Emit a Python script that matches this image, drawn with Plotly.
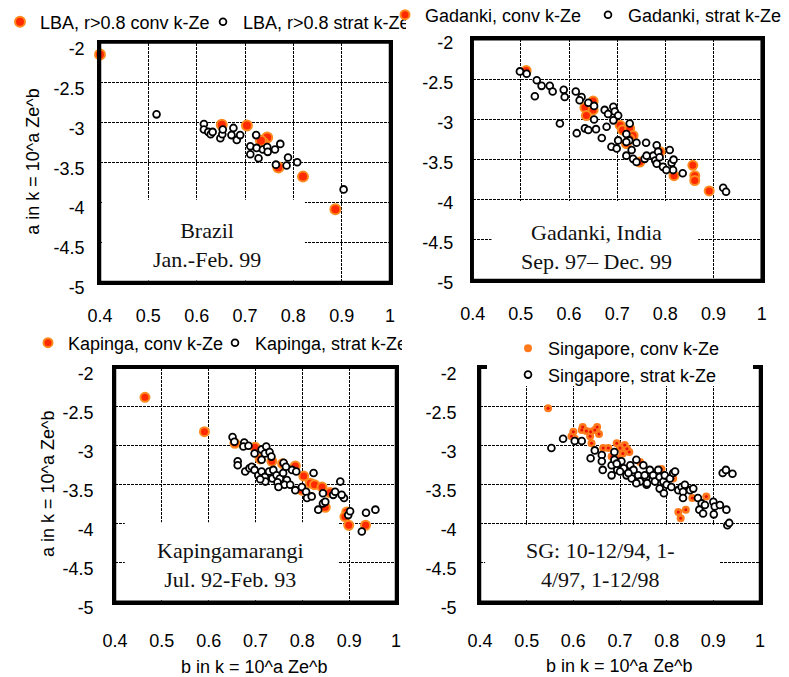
import plotly.graph_objects as go

# ---------------- data: exponent b and log-coefficient a of k = 10^a Ze^b ----------------
B_TICKS = [0.4, 0.5, 0.6, 0.7, 0.8, 0.9, 1.0]
B_TICK_TEXT = ["0.4", "0.5", "0.6", "0.7", "0.8", "0.9", "1"]
A_TICKS = [-2.0, -2.5, -3.0, -3.5, -4.0, -4.5, -5.0]
A_TICK_TEXT = ["-2", "-2.5", "-3", "-3.5", "-4", "-4.5", "-5"]

# Brazil (LBA, r>0.8)
lba_conv_b = [0.400, 0.652, 0.704, 0.746, 0.738, 0.733, 0.769, 0.820, 0.887]
lba_conv_a = [-2.15, -3.03, -3.04, -3.19, -3.26, -3.23, -3.565, -3.68, -4.09]
lba_strat_b = [0.517, 0.615, 0.615, 0.624, 0.629, 0.633, 0.649, 0.653, 0.654, 0.672,
               0.676, 0.683, 0.690, 0.723, 0.711, 0.711, 0.724, 0.728, 0.737, 0.746,
               0.747, 0.762, 0.773, 0.764, 0.786, 0.789, 0.808, 0.904]
lba_strat_a = [-2.90, -3.02, -3.09, -3.12, -3.15, -3.12, -3.20, -3.15, -3.09, -3.16,
               -3.07, -3.22, -3.16, -3.16, -3.30, -3.40, -3.32, -3.45, -3.34, -3.31,
               -3.37, -3.34, -3.27, -3.53, -3.54, -3.44, -3.50, -3.84]

# Gadanki, India
gad_conv_b = [0.511, 0.633, 0.650, 0.650, 0.636, 0.706, 0.711, 0.726, 0.733, 0.726,
              0.719, 0.747, 0.789, 0.818, 0.857, 0.861, 0.861, 0.891]
gad_conv_a = [-2.39, -2.85, -2.77, -2.88, -2.95, -3.07, -3.13, -3.11, -3.20, -3.24,
              -3.30, -3.53, -3.40, -3.70, -3.57, -3.70, -3.76, -3.89]
gad_strat_b = [0.498, 0.512, 0.533, 0.543, 0.529, 0.560, 0.566, 0.589, 0.591, 0.614,
               0.626, 0.622, 0.640, 0.652, 0.581, 0.616, 0.633, 0.640, 0.656, 0.652,
               0.668, 0.674, 0.681, 0.692, 0.695, 0.702, 0.692, 0.688, 0.699, 0.702,
               0.678, 0.719, 0.725, 0.730, 0.726, 0.719, 0.733, 0.740, 0.760, 0.757,
               0.761, 0.775, 0.779, 0.782, 0.785, 0.782, 0.795, 0.788, 0.809, 0.813,
               0.816, 0.802, 0.817, 0.836, 0.920, 0.926, 0.740, 0.719]
gad_strat_a = [-2.40, -2.43, -2.51, -2.58, -2.71, -2.58, -2.65, -2.63, -2.72, -2.65,
               -2.72, -2.76, -2.79, -2.83, -3.05, -3.17, -3.11, -3.13, -3.12, -3.00,
               -3.23, -2.88, -2.93, -2.84, -2.90, -2.95, -3.01, -3.34, -3.36, -3.26,
               -3.09, -3.18, -3.26, -3.38, -3.05, -3.45, -3.49, -3.53, -3.29, -3.49,
               -3.45, -3.45, -3.51, -3.32, -3.40, -3.55, -3.59, -3.47, -3.38, -3.54,
               -3.63, -3.63, -3.50, -3.67, -3.85, -3.90, -3.29, -3.28]

# Kapingamarangi
kap_conv_b = [0.464, 0.591, 0.656, 0.699, 0.710, 0.735, 0.758, 0.785, 0.803, 0.817,
              0.826, 0.842, 0.849, 0.859, 0.895, 0.891, 0.899, 0.935, 0.799]
kap_conv_a = [-2.38, -2.82, -2.97, -3.02, -3.17, -3.20, -3.23, -3.26, -3.39, -3.48,
              -3.50, -3.53, -3.79, -3.60, -3.85, -3.91, -4.02, -4.02, -3.57]
kap_strat_b = [0.651, 0.655, 0.676, 0.674, 0.685, 0.698, 0.713, 0.720, 0.723, 0.730,
               0.734, 0.713, 0.662, 0.662, 0.678, 0.687, 0.692, 0.698, 0.706, 0.713,
               0.720, 0.729, 0.736, 0.721, 0.710, 0.738, 0.745, 0.752, 0.747, 0.759,
               0.767, 0.762, 0.774, 0.785, 0.778, 0.749, 0.760, 0.765, 0.787, 0.799,
               0.808, 0.810, 0.824, 0.834, 0.844, 0.844, 0.849, 0.866, 0.870, 0.881,
               0.889, 0.884, 0.898, 0.902, 0.927, 0.936, 0.956, 0.820]
kap_strat_a = [-2.89, -2.95, -2.96, -3.01, -3.00, -3.10, -3.05, -3.10, -3.01, -3.08,
               -3.14, -3.18, -3.20, -3.25, -3.33, -3.29, -3.27, -3.31, -3.38, -3.33,
               -3.40, -3.33, -3.42, -3.46, -3.43, -3.31, -3.38, -3.42, -3.47, -3.35,
               -3.44, -3.50, -3.50, -3.57, -3.31, -3.53, -3.22, -3.27, -3.33, -3.53,
               -3.59, -3.67, -3.35, -3.82, -3.61, -3.74, -3.72, -3.63, -3.59, -3.46,
               -3.67, -3.63, -3.89, -3.84, -4.10, -3.86, -3.82, -3.65]

# Singapore
sg_conv_b = [0.546, 0.600, 0.596, 0.603, 0.620, 0.618, 0.628, 0.637, 0.636, 0.646,
             0.651, 0.655, 0.639, 0.664, 0.675, 0.693, 0.700, 0.710, 0.715, 0.720,
             0.706, 0.682, 0.696, 0.743, 0.789, 0.814, 0.855, 0.885, 0.825, 0.841, 0.830]
sg_conv_a = [-2.52, -2.82, -2.88, -2.91, -2.76, -2.80, -2.81, -2.82, -2.88, -2.80,
             -2.76, -2.85, -2.97, -3.03, -3.03, -2.97, -3.03, -2.99, -3.04, -3.08,
             -3.10, -3.14, -3.16, -3.21, -3.30, -3.42, -3.67, -3.65, -3.85, -3.82, -3.93]
sg_strat_b = [0.553, 0.578, 0.603, 0.618, 0.637, 0.646, 0.661, 0.663, 0.682, 0.688,
              0.688, 0.694, 0.682, 0.703, 0.708, 0.714, 0.722, 0.729, 0.725, 0.735,
              0.739, 0.743, 0.756, 0.735, 0.757, 0.661, 0.693, 0.750, 0.753, 0.758,
              0.764, 0.771, 0.775, 0.782, 0.785, 0.793, 0.796, 0.800, 0.785, 0.794,
              0.807, 0.810, 0.814, 0.818, 0.825, 0.832, 0.835, 0.839, 0.835, 0.850,
              0.857, 0.867, 0.875, 0.870, 0.882, 0.878, 0.900, 0.903, 0.901, 0.914,
              0.928, 0.920, 0.927, 0.941, 0.930, 0.934, 0.700, 0.718]
sg_strat_a = [-3.03, -2.91, -2.94, -2.94, -3.16, -3.06, -3.12, -3.31, -3.25, -3.08,
              -3.18, -3.31, -3.38, -3.20, -3.29, -3.38, -3.25, -3.31, -3.42, -3.18,
              -3.38, -3.46, -3.42, -3.48, -3.50, -3.20, -3.23, -3.25, -3.38, -3.48,
              -3.31, -3.38, -3.46, -3.31, -3.40, -3.46, -3.38, -3.50, -3.55, -3.61,
              -3.42, -3.53, -3.35, -3.33, -3.57, -3.53, -3.59, -3.50, -3.67, -3.57,
              -3.55, -3.67, -3.74, -3.82, -3.76, -3.87, -3.72, -3.78, -3.88, -3.76,
              -3.82, -3.35, -3.31, -3.36, -4.02, -3.99, -3.33, -3.35]

# ---------------- page geometry (pixels) ----------------
W, H = 789, 677


def xdom(left, right):
    return [left / W, right / W]


def ydom(top, bottom):
    return [1 - bottom / H, 1 - top / H]


def px(x):
    return x / W


def py(y):
    return 1 - y / H


SANS = "Liberation Sans, Arial, sans-serif"
SERIF = "Liberation Serif, Times New Roman, serif"

CONV_FILL = "#FF2A00"
CONV_EDGE = "#FF8A1E"

fig = go.Figure()


def conv_trace(b, a, name, axis, legend, size=9):
    return go.Scatter(
        x=b, y=a, mode="markers", name=name, xaxis="x" + axis, yaxis="y" + axis,
        legend=legend, cliponaxis=False,
        marker=dict(size=size, color=CONV_FILL, line=dict(color=CONV_EDGE, width=2)),
    )


def strat_trace(b, a, name, axis, legend):
    return go.Scatter(
        x=b, y=a, mode="markers", name=name, xaxis="x" + axis, yaxis="y" + axis,
        legend=legend, cliponaxis=False,
        marker=dict(size=6.8, color="white", line=dict(color="black", width=1.8)),
    )


fig.add_trace(conv_trace(lba_conv_b, lba_conv_a, "LBA, r>0.8 conv k-Ze", "", "legend", 10))
fig.add_trace(strat_trace(lba_strat_b, lba_strat_a, "LBA, r>0.8 strat k-Ze", "", "legend"))

fig.add_trace(conv_trace(gad_conv_b, gad_conv_a, "Gadanki, conv k-Ze", "2", "legend2"))
fig.add_trace(strat_trace(gad_strat_b, gad_strat_a, "Gadanki, strat k-Ze", "2", "legend2"))

fig.add_trace(conv_trace(kap_conv_b, kap_conv_a, "Kapinga, conv k-Ze", "3", "legend3"))
fig.add_trace(strat_trace(kap_strat_b, kap_strat_a, "Kapinga, strat k-Ze", "3", "legend3"))

# Singapore convective: orange dots with a red core
fig.add_trace(go.Scatter(
    x=sg_conv_b, y=sg_conv_a, mode="markers", name="Singapore, conv k-Ze",
    xaxis="x4", yaxis="y4", legend="legend4", cliponaxis=False,
    marker=dict(size=8, color="#FF7A1C", line=dict(width=0)),
))
fig.add_trace(go.Scatter(
    x=sg_conv_b, y=sg_conv_a, mode="markers", showlegend=False, hoverinfo="skip",
    xaxis="x4", yaxis="y4", cliponaxis=False,
    marker=dict(size=3, color="#E81000", line=dict(width=0)),
))
fig.add_trace(strat_trace(sg_strat_b, sg_strat_a, "Singapore, strat k-Ze", "4", "legend4"))

# ---------------- axes ----------------
panels = {
    "": dict(x=(100, 390), y=(42.5, 282), ystand=9, yshift=6, xstand=16),
    "2": dict(x=(472.7, 761.7), y=(39.3, 280), ystand=13, yshift=3, xstand=16),
    "3": dict(x=(115, 396), y=(367.7, 601.7), ystand=15, yshift=6, xstand=21),
    "4": dict(x=(480, 760), y=(367.7, 601.7), ystand=17, yshift=6, xstand=21),
}

tickfont = dict(family=SANS, size=18, color="black")
common = dict(
    showgrid=True, gridcolor="black", gridwidth=1.4, griddash="3px,1px",
    showline=True, linecolor="black", linewidth=2.5, mirror=True,
    ticks="", zeroline=False, fixedrange=True, tickfont=tickfont,
)

layout_axes = {}
for key, p in panels.items():
    layout_axes["xaxis" + key] = dict(
        common, domain=xdom(*p["x"]), anchor="y" + key, range=[0.4, 1.0],
        tickvals=B_TICKS, ticktext=B_TICK_TEXT, ticklabelstandoff=p["xstand"],
    )
    layout_axes["yaxis" + key] = dict(
        common, domain=ydom(*p["y"]), anchor="x" + key, range=[-5.0, -2.0],
        tickvals=A_TICKS, ticktext=A_TICK_TEXT,
        ticklabelstandoff=p["ystand"], ticklabelshift=p["yshift"],
    )

# ---------------- white label boxes inside the plots ----------------
box_style = dict(type="rect", fillcolor="white", line=dict(width=0), layer="above")
shapes = [
    dict(box_style, xref="x", yref="y", x0=0.404, x1=0.824, y0=-4.98, y1=-3.97),
    dict(box_style, xref="x2", yref="y2", x0=0.439, x1=0.868, y0=-4.98, y1=-4.015),
    dict(box_style, xref="x3", yref="y3", x0=0.421, x1=0.876, y0=-4.98, y1=-3.98),
    dict(box_style, xref="x4", yref="y4", x0=0.411, x1=0.914, y0=-4.98, y1=-4.015),
]
# heavy frame round each plot
for p in panels.values():
    (l, r), (t, b) = p["x"], p["y"]
    shapes.append(dict(type="rect", xref="paper", yref="paper", layer="above",
                       x0=px(l), x1=px(r), y0=py(b), y1=py(t),
                       line=dict(color="black", width=2.5), fillcolor="rgba(0,0,0,0)"))
# legend panel over the top of the Singapore frame
shapes.append(dict(type="rect", xref="paper", yref="paper", fillcolor="white",
                   line=dict(width=0), layer="above",
                   x0=px(487), x1=px(753), y0=py(386), y1=py(360)))

annotations = [
    dict(text="Brazil<br>Jan.-Feb. 99", x=px(206.7), y=py(245)),
    dict(text="Gadanki, India<br>Sep. 97– Dec. 99", x=px(596), y=py(247)),
    dict(text="Kapingamarangi<br>Jul. 92-Feb. 93", x=px(230.8), y=py(565)),
    dict(text="SG: 10-12/94, 1-<br>4/97, 1-12/98", x=px(600), y=py(565)),
]
for ann in annotations:
    ann.update(xref="paper", yref="paper", xanchor="center", yanchor="middle",
               showarrow=False, font=dict(family=SERIF, size=22, color="#111111"))

title_font = dict(family=SANS, size=18, color="black")
axis_titles = [
    dict(text="a in k = 10^a Ze^b", x=px(33), y=py(161.7), textangle=-90),
    dict(text="a in k = 10^a Ze^b", x=px(48), y=py(484), textangle=-90),
    dict(text="b in k = 10^a Ze^b", x=px(254), y=py(667)),
    dict(text="b in k = 10^a Ze^b", x=px(618.7), y=py(666)),
]
for ann in axis_titles:
    ann.update(xref="paper", yref="paper", xanchor="center", yanchor="middle",
               showarrow=False, font=title_font)

legend_font = dict(family=SANS, size=18, color="black")
legend_common = dict(
    orientation="h", xanchor="left", yanchor="middle", bgcolor="rgba(0,0,0,0)",
    borderwidth=0, font=legend_font, entrywidthmode="pixels", tracegroupgap=0,
)

fig.update_layout(
    width=W, height=H, margin=dict(l=0, r=0, t=0, b=0, autoexpand=False),
    paper_bgcolor="white", plot_bgcolor="white",
    showlegend=True, hovermode=False,
    shapes=shapes, annotations=annotations + axis_titles,
    legend=dict(legend_common, x=0.0, y=py(22), entrywidth=158),
    legend2=dict(legend_common, x=px(385), y=py(15), entrywidth=158),
    legend3=dict(legend_common, x=px(28), y=py(343), entrywidth=142),
    legend4=dict(orientation="v", xanchor="left", yanchor="top", x=px(508), y=py(330),
                 bgcolor="rgba(0,0,0,0)", borderwidth=0, font=legend_font,
                 tracegroupgap=0),
    **layout_axes,
)

fig.write_html("out.html")
